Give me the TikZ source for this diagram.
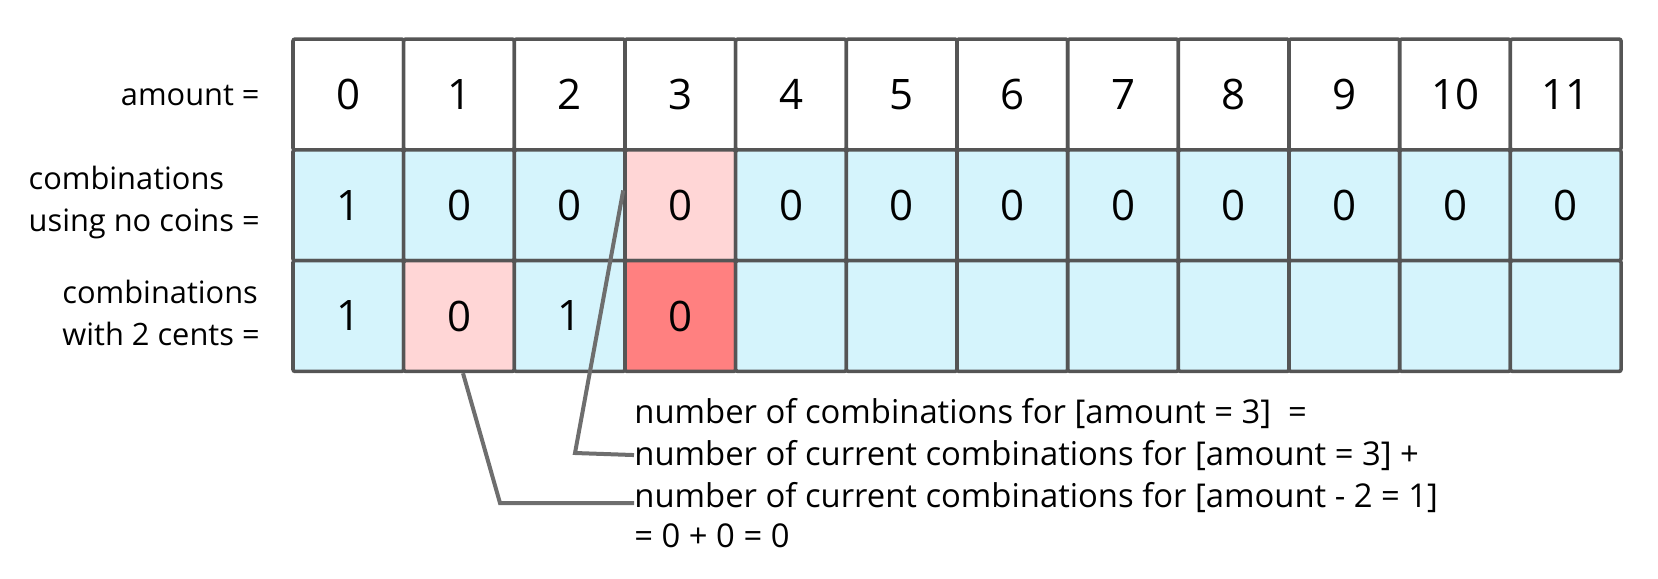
\documentclass[tikz,border=0pt]{standalone}
\usepackage{fontspec}
\setmainfont{Open Sans}
\usepackage{xcolor}
\usepackage{tikz}
\usetikzlibrary{positioning,calc}

\definecolor{cellblue}{RGB}{213,244,252}
\definecolor{cellpink}{RGB}{255,214,214}
\definecolor{cellred}{RGB}{255,128,128}
\definecolor{gridgray}{RGB}{85,85,85}
\definecolor{linkgray}{RGB}{110,110,110}

\begin{document}
\begin{tikzpicture}[x=0.5pt,y=-0.5pt,
  cell/.style={draw=gridgray,line width=1.8pt,rounded corners=1pt,minimum width=55.33pt,minimum height=55.4pt,inner sep=0pt,font=\fontsize{21}{21}\selectfont},
  rowlabel/.style={align=left,anchor=east,inner sep=0pt,font=\fontsize{15.4}{21}\selectfont},
  note/.style={anchor=base west,inner sep=0pt,font=\fontsize{16.4}{21}\selectfont},
  link/.style={draw=linkgray,line width=2pt}]
\useasboundingbox (0,0) rectangle (1658,578);

% row labels
\node[rowlabel] (lamount) at (260,95) {amount =};
\node[rowlabel] (lnone) at (260,202) {combinations\\using no coins =};
\node[rowlabel] (ltwo) at (260,313) {combinations\\with 2 cents =};

% the table
\foreach \k in {0,...,11}
  \node[cell,fill=white] (a\k) at ({293+110.67*(\k+0.5)},94.5) {\k};
\foreach \v/\c [count=\k from 0] in {1/cellblue,0/cellblue,0/cellblue,0/cellpink,0/cellblue,0/cellblue,0/cellblue,0/cellblue,0/cellblue,0/cellblue,0/cellblue,0/cellblue}
  \node[cell,fill=\c] (n\k) at ({293+110.67*(\k+0.5)},205.3) {\v};
\foreach \v/\c [count=\k from 0] in {1/cellblue,0/cellpink,1/cellblue,0/cellred,{}/cellblue,{}/cellblue,{}/cellblue,{}/cellblue,{}/cellblue,{}/cellblue,{}/cellblue,{}/cellblue}
  \node[cell,fill=\c] (w\k) at ({293+110.67*(\k+0.5)},316) {\v};

% explanation
\node[note] (t1) at (634,423) {number of combinations for [amount = 3]\ \ =};
\node[note] (t2) at (634,465) {number of current combinations for [amount = 3] +};
\node[note] (t3) at (634,507) {number of current combinations for [amount - 2 = 1]};
\node[note] (t4) at (634,547) {= 0 + 0 = 0};

\coordinate (b1) at (575,453);
\coordinate (b2) at (500,503);
\draw[link] ($(n3.north west)!0.37!(n3.south west)$) -- (b1) -- (t2.west);
\draw[link] ($(w1.south)+(4,0)$) -- (b2) -- ($(t3.base west)+(0,-4)$);
\end{tikzpicture}
\end{document}
